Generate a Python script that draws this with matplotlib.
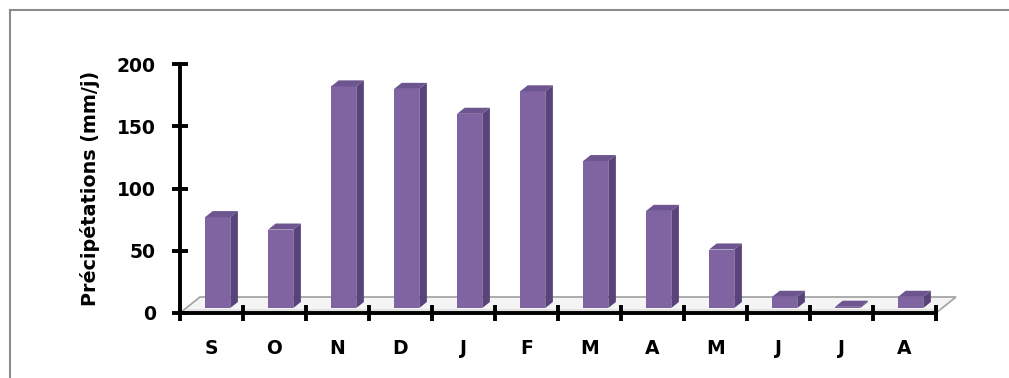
import numpy as np
import matplotlib
matplotlib.use("Agg")
import matplotlib.pyplot as plt
from matplotlib.patches import Polygon
from matplotlib.lines import Line2D

# Précipitations mensuelles (année hydrologique sept. -> août)
mois = ["S", "O", "N", "D", "J", "F", "M", "A", "M", "J", "J", "A"]
precip = [73, 63, 178, 176, 156, 174, 118, 78, 47, 9, 1, 9]

COL_FACE = "#8064A2"
COL_SIDE = "#58437A"
COL_TOP = "#6D5590"

# profondeur du plancher (effet 3D oblique), en unités de données
DX, DY = 0.317, 12.85
F0, F1 = 0.31, 0.69      # avant / arrière des colonnes dans la profondeur
LARG = 0.40

plt.rcParams["font.family"] = "DejaVu Sans"
plt.rcParams["font.weight"] = "bold"

fig = plt.figure(figsize=(10.09, 3.78), dpi=100)
ax = fig.add_axes([180 / 1009, 65 / 378, 756 / 1009, 249 / 378])
ax.set_xlim(0, len(mois))
ax.set_ylim(0, 200)

# cadre gris du graphique
for xs, ys in [([10 / 1009, 1.02], [1 - 10 / 378] * 2),
               ([10 / 1009] * 2, [1 - 10 / 378, -0.02])]:
    fig.add_artist(Line2D(xs, ys, transform=fig.transFigure,
                          color="#8C8C8C", lw=1.5))

# plancher
n = len(mois)
sol = Polygon([(0, 0), (n, 0), (n + DX, DY), (DX, DY)], closed=True,
              facecolor="#F4F4F4", edgecolor="#A6A6A6", lw=1.3,
              clip_on=False, zorder=1)
ax.add_patch(sol)
ombre = Polygon([(0.05, 0.3), (n, 0.3), (n + 0.25 * DX, 0.25 * DY), (0.05 + 0.25 * DX, 0.25 * DY)],
                closed=True, facecolor="#DCDCDC", edgecolor="none", alpha=0.7,
                clip_on=False, zorder=1.1)
ax.add_patch(ombre)

x = np.arange(n) + 0.5 + F0 * DX
base = F0 * DY
ax.bar(x, precip, width=LARG, bottom=base, color=COL_FACE, zorder=3)

ddx, ddy = (F1 - F0) * DX, (F1 - F0) * DY
for xi, v in zip(x, precip):
    g, d, h = xi - LARG / 2, xi + LARG / 2, base + v
    ax.add_patch(Polygon([(g, h), (d, h), (d + ddx, h + ddy), (g + ddx, h + ddy)],
                         closed=True, facecolor=COL_TOP, edgecolor="none", zorder=3))
    ax.add_patch(Polygon([(d, base), (d + ddx, base + ddy), (d + ddx, h + ddy), (d, h)],
                         closed=True, facecolor=COL_SIDE, edgecolor="none", zorder=3))

for s in ["top", "right"]:
    ax.spines[s].set_visible(False)
for s in ["left", "bottom"]:
    ax.spines[s].set_linewidth(2.8)
    ax.spines[s].set_zorder(4)

ax.set_yticks([0, 50, 100, 150, 200])
ax.tick_params(axis="y", direction="inout", length=11, width=2.8, pad=12, labelsize=13.5)
ax.set_xticks(np.arange(n + 1))
ax.set_xticklabels([])
ax.set_xticks(np.arange(n) + 0.5, minor=True)
ax.set_xticklabels(mois, minor=True)
ax.tick_params(axis="x", which="major", direction="inout", length=11, width=2.8)
ax.tick_params(axis="x", which="minor", length=0, pad=19, labelsize=13.5)

ax.set_ylabel("Précipétations (mm/j)", fontsize=13.8, fontweight="bold", labelpad=12)

fig.savefig("out.png", dpi=100)
